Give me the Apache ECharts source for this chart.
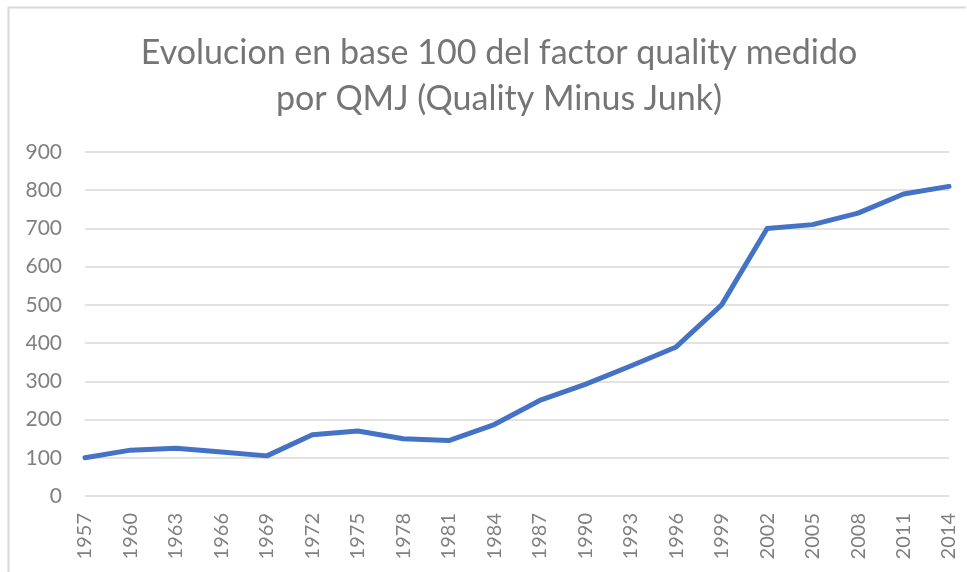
<!DOCTYPE html>
<html>
<head>
<meta charset="utf-8">
<script src="https://cdn.jsdelivr.net/npm/echarts@6/dist/echarts.min.js"></script>
<style>
	html, body { margin: 0; padding: 0; background: #fff; }
	#main { width: 967px; height: 572px; }
</style>
</head>
<body>
<div id="main"></div>
<script>
// datos
var years = ['1957', '1960', '1963', '1966', '1969', '1972', '1975', '1978', '1981', '1984',
	'1987', '1990', '1993', '1996', '1999', '2002', '2005', '2008', '2011', '2014'];
var qmj = [100, 120, 125, 115, 105, 160, 170, 150, 145, 187,
	250, 292, 340, 390, 500, 700, 710, 740, 790, 810];
var titleLines = ['Evolucion en base 100 del factor quality medido', 'por QMJ (Quality Minus Junk)'];

var myChart = echarts.init(document.getElementById('main'));

var option = {
	animation: false,
	backgroundColor: '#fff',
	title: {
		text: titleLines.join('\n'),
		left: 494,
		textAlign: 'center',
		top: 25,
		textStyle: {
			fontFamily: 'Lato',
			fontWeight: 'normal',
			fontSize: 34,
			lineHeight: 46,
			color: '#757575'
		}
	},
	grid: {
		left: 85,
		right: 18,
		top: 152,
		bottom: 76
	},
	xAxis: {
		type: 'category',
		boundaryGap: false,
		data: years,
		axisLine: { show: false },
		axisTick: { show: false },
		axisLabel: {
			rotate: 90,
			margin: 17,
			fontFamily: 'Lato',
			fontSize: 20,
			color: '#808080'
		}
	},
	yAxis: {
		type: 'value',
		min: 0,
		max: 900,
		interval: 100,
		axisLine: { show: false },
		axisTick: { show: false },
		axisLabel: {
			margin: 23,
			fontFamily: 'Lato',
			fontSize: 21,
			color: '#808080'
		},
		splitLine: {
			lineStyle: { color: '#d9d9d9', width: 1.5 }
		}
	},
	series: [{
		type: 'line',
		data: qmj,
		showSymbol: false,
		lineStyle: { color: '#4472c4', width: 5, cap: 'round', join: 'round' },
		itemStyle: { color: '#4472c4' }
	}],
	graphic: [{
		type: 'polyline',
		shape: { points: [[8.5, 580], [8.5, 7.5], [966, 7.5]] },
		style: { stroke: '#d9d9d9', lineWidth: 2, fill: null }
	}]
};

myChart.setOption(option, true);
</script>
</body>
</html>
